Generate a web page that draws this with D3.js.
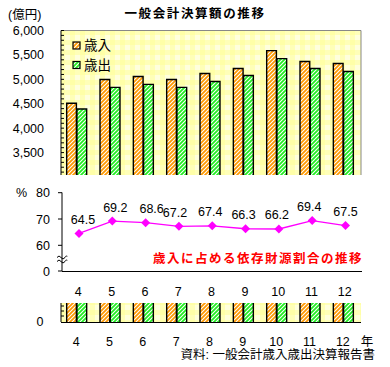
<!DOCTYPE html>
<html><head><meta charset="utf-8">
<script src="https://cdn.jsdelivr.net/npm/d3@7"></script>
<style>
html,body{margin:0;padding:0;background:#fff;}
svg{display:block;font-family:"Liberation Sans","Noto Sans CJK JP",sans-serif;}
</style></head>
<body>
<svg id="c" width="390" height="367"></svg>
<script>
const years = ["4","5","6","7","8","9","10","11","12"];
const revenue = [4510, 4998, 5059, 4998, 5120, 5221, 5587, 5364, 5323];
const expenditure = [4394, 4835, 4896, 4835, 4957, 5079, 5425, 5221, 5160];
const ratio = [64.5, 69.2, 68.6, 67.2, 67.4, 66.3, 66.2, 69.4, 67.5];
const labelDx = [4, 3, 6, -4, -2, -2, -2, -3, 0];
const yTicks = [3500, 4000, 4500, 5000, 5500, 6000];
const pTicks = [60, 70, 80];
const seriesNames = ["歳入", "歳出"];

const svg = d3.select("#c");
const defs = svg.append("defs");

// background plaid pattern
const bg = defs.append("pattern").attr("id","bg").attr("patternUnits","userSpaceOnUse")
  .attr("width",10).attr("height",10);
bg.append("rect").attr("width",10).attr("height",10).attr("fill","#ffffdd");
bg.append("rect").attr("width",10).attr("height",5).attr("fill","#ffff99").attr("opacity",0.55);
bg.append("rect").attr("width",5).attr("height",10).attr("fill","#ffff99").attr("opacity",0.55);

function hatch(id, color){
  const p = defs.append("pattern").attr("id",id).attr("patternUnits","userSpaceOnUse")
    .attr("width",4).attr("height",4);
  p.append("rect").attr("width",4).attr("height",4).attr("fill","#fff");
  p.append("path").attr("d","M-1,5 L5,-1 M-1,1 L1,-1 M3,5 L5,3")
    .attr("stroke",color).attr("stroke-width",1.8);
}
hatch("hO","#ff9900");
hatch("hG","#22ee22");
const fills = ["url(#hO)","url(#hG)"];

const left = 61, right = 361;
const x = d3.scaleBand().domain(years).range([left, right]);
const xs = d3.scaleBand().domain([0,1]).range([-11, 9]).paddingInner(0.05);

// ===== Top panel =====
const topY = 30.5, botY = 175;
const y = d3.scaleLinear().domain([3000, 6000]).range([177, 30.5]);

svg.append("rect").attr("x",left).attr("y",topY).attr("width",right-left).attr("height",botY-topY)
  .attr("fill","url(#bg)");
svg.append("path").attr("d",`M${left},${topY}H${right}V${botY}`).attr("fill","none")
  .attr("stroke","#888").attr("stroke-width",1);

const gTop = svg.append("g");
years.forEach((yr,i)=>{
  [revenue[i], expenditure[i]].forEach((v,k)=>{
    const bx = x(yr) + x.bandwidth()/2 + xs(k);
    const ty = y(v);
    gTop.append("rect").attr("x",bx).attr("y",ty).attr("width",xs.bandwidth()).attr("height",botY-ty)
      .attr("fill",fills[k]);
    gTop.append("path").attr("d",`M${bx},${botY}V${ty}H${bx+xs.bandwidth()}V${botY}`)
      .attr("fill","none").attr("stroke","#000").attr("stroke-width",1.4);
  });
});

// left axis with inside minor ticks
svg.append("line").attr("x1",left).attr("x2",left).attr("y1",topY).attr("y2",botY).attr("stroke","#000");
d3.range(3100, 6001, 100).forEach(v=>{
  const yy = y(v); if (yy > botY) return;
  svg.append("line").attr("x1",left).attr("x2",left+3).attr("y1",yy).attr("y2",yy).attr("stroke","#000");
});
yTicks.forEach(v=>{
  svg.append("text").attr("x",44).attr("y",y(v)).attr("dy","0.36em").attr("text-anchor","end")
    .attr("font-size",12.5).text(d3.format(",")(v));
});
svg.append("text").attr("x",8).attr("y",14).attr("dy","0.36em").attr("font-size",12.5).text("(億円)");
svg.append("text").attr("x",195).attr("y",13).attr("dy","0.36em").attr("text-anchor","middle")
  .attr("font-size",12.5).attr("font-weight","bold").attr("letter-spacing",1.6).text("一般会計決算額の推移");

// legend
seriesNames.forEach((n,k)=>{
  const ly = 45.5 + k*19.5;
  svg.append("rect").attr("x",73).attr("y",ly-3.5).attr("width",7).attr("height",7)
    .attr("fill",fills[k]).attr("stroke","#000").attr("stroke-width",1.2);
  svg.append("text").attr("x",84).attr("y",ly).attr("dy","0.36em").attr("font-size",13.5).text(n);
});

// ===== Middle panel (line) =====
const py = d3.scaleLinear().domain([60, 80]).range([245.3, 192.7]);
const zeroY = 271;
const xl = d3.scalePoint().domain(years).range([79, 345.5]);
const axX = 62;
svg.append("line").attr("x1",axX).attr("x2",axX).attr("y1",192.5).attr("y2",zeroY).attr("stroke","#000");
svg.append("line").attr("x1",axX).attr("x2",362).attr("y1",zeroY+0.5).attr("y2",zeroY+0.5).attr("stroke","#000");
pTicks.forEach(v=>{
  svg.append("line").attr("x1",axX-4).attr("x2",axX).attr("y1",py(v)).attr("y2",py(v)).attr("stroke","#000");
  svg.append("text").attr("x",50).attr("y",py(v)).attr("dy","0.36em").attr("text-anchor","end")
    .attr("font-size",12.5).text(v);
});
svg.append("line").attr("x1",axX-4).attr("x2",axX).attr("y1",zeroY).attr("y2",zeroY).attr("stroke","#000");
svg.append("text").attr("x",50).attr("y",zeroY).attr("dy","0.36em").attr("text-anchor","end")
  .attr("font-size",12.5).text("0");
svg.append("text").attr("x",16).attr("y",192).attr("dy","0.36em").attr("font-size",12.5).text("%");
// break mark
[0,4].forEach(o=>{
  svg.append("path").attr("d",`M${axX-5},${257.5+o} q2,-3 4,0 t4,0 t2,-1`).attr("fill","none")
    .attr("stroke","#000").attr("stroke-width",1);
});

const line = d3.line().x((d,i)=>xl(years[i])).y(d=>py(d));
svg.append("path").attr("d",line(ratio)).attr("fill","none").attr("stroke","#ff00ff").attr("stroke-width",1.3);
ratio.forEach((v,i)=>{
  const cx = xl(years[i]), cy = py(v);
  svg.append("path").attr("d",`M${cx},${cy-4.5}L${cx+4.5},${cy}L${cx},${cy+4.5}L${cx-4.5},${cy}Z`)
    .attr("fill","#ff00ff");
  svg.append("text").attr("x",cx+labelDx[i]).attr("y",cy-14).attr("dy","0.36em").attr("text-anchor","middle")
    .attr("font-size",12.5).text(v.toFixed(1));
});
svg.append("text").attr("x",258).attr("y",258).attr("dy","0.36em").attr("text-anchor","middle")
  .attr("font-size",12.5).attr("font-weight","bold").attr("fill","#ff0000").attr("letter-spacing",1.5)
  .text("歳入に占める依存財源割合の推移");

years.forEach(yr=>{
  svg.append("text").attr("x",xl(yr)-0.7).attr("y",291).attr("dy","0.36em").attr("text-anchor","middle")
    .attr("font-size",12.5).text(yr);
});

// ===== Bottom strip =====
const sTop = 303, sBot = 322;
svg.append("rect").attr("x",left).attr("y",sTop).attr("width",right-left).attr("height",sBot-sTop)
  .attr("fill","url(#bg)");
years.forEach((yr,i)=>{
  [revenue[i], expenditure[i]].forEach((v,k)=>{
    const bx = x(yr) + x.bandwidth()/2 + xs(k);
    svg.append("rect").attr("x",bx).attr("y",sTop).attr("width",xs.bandwidth()).attr("height",sBot-sTop)
      .attr("fill",fills[k]);
    svg.append("path").attr("d",`M${bx},${sTop}V${sBot}M${bx+xs.bandwidth()},${sTop}V${sBot}`)
      .attr("stroke","#000").attr("stroke-width",1.4);
  });
});
svg.append("line").attr("x1",left).attr("x2",left).attr("y1",sTop).attr("y2",sBot).attr("stroke","#000");
svg.append("line").attr("x1",left).attr("x2",right).attr("y1",sBot+0.5).attr("y2",sBot+0.5).attr("stroke","#000");
[306, 311, 316].forEach(t=>{
  svg.append("line").attr("x1",left).attr("x2",left+3).attr("y1",t).attr("y2",t).attr("stroke","#000");
});
svg.append("text").attr("x",40).attr("y",321).attr("dy","0.36em").attr("text-anchor","middle")
  .attr("font-size",12.5).text("0");
years.forEach(yr=>{
  svg.append("text").attr("x",x(yr)+x.bandwidth()/2-1.5).attr("y",341).attr("dy","0.36em").attr("text-anchor","middle")
    .attr("font-size",12.5).text(yr);
});
svg.append("text").attr("x",367).attr("y",341).attr("dy","0.36em").attr("text-anchor","middle")
  .attr("font-size",12.5).text("年");
svg.append("text").attr("x",375).attr("y",354).attr("dy","0.36em").attr("text-anchor","end")
  .attr("font-size",12.5).text("資料: 一般会計歳入歳出決算報告書");
</script>
</body></html>
